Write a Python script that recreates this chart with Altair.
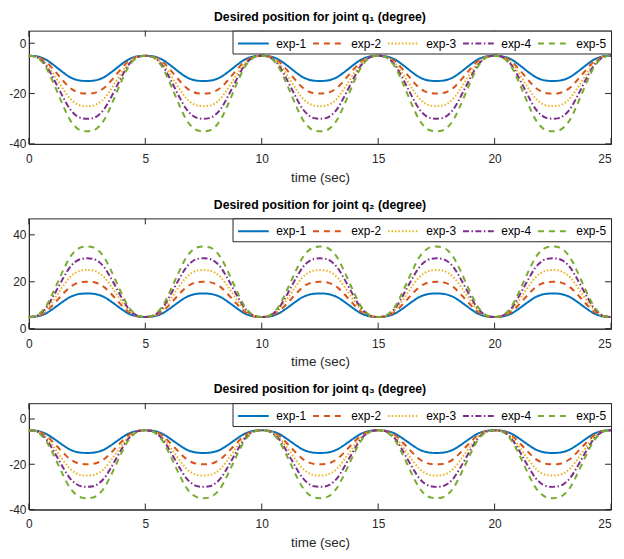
import altair as alt
import pandas as pd

# time axis (sec)
T_STEP = 0.25
T_END = 25
PROFILE = [0.00, 0.01, 0.06, 0.16, 0.32, 0.50, 0.68, 0.84, 0.94, 0.99,
           1.00, 0.99, 0.94, 0.84, 0.68, 0.50, 0.32, 0.16, 0.06, 0.01]
EXPS = ["exp-1", "exp-2", "exp-3", "exp-4", "exp-5"]
AMPLITUDES = [10, 15, 20, 25, 30]   # swing from the rest position (deg)
Q1_BASE, Q1_SIGN = -5, -1
Q2_BASE, Q2_SIGN = 5, 1
Q3_BASE, Q3_SIGN = -5, -1

COLORS = ["#0072BD", "#D95319", "#EDB120", "#7E2F8E", "#77AC30"]
DASHES = [[1, 0], [6, 5], [1.5, 2], [6, 2.5, 1.5, 2.5], [6, 5]]

X_TICKS = [0, 5, 10, 15, 20, 25]
Q1_TICKS = [-40, -20, 0]
Q2_TICKS = [0, 20, 40]
Q3_TICKS = [-40, -20, 0]

W = 586
FONT = "Liberation Sans"
AX = "#262626"
TICK = 6


def series(base, sign):
    rows = []
    n = int(T_END / T_STEP)
    for e, a in zip(EXPS, AMPLITUDES):
        for i in range(n + 1):
            p = PROFILE[i % len(PROFILE)]
            rows.append({"t": i * T_STEP, "value": base + sign * a * p, "exp": e})
    return pd.DataFrame(rows)


def panel(df, title, ydom, yticks, h):
    xs = alt.Scale(domain=[0, 25], nice=False, zero=False)
    ys = alt.Scale(domain=ydom, nice=False, zero=False)
    leg = alt.Legend(title=None, orient="top-right", direction="horizontal",
                     symbolType="M-2,0H2", symbolSize=240, symbolStrokeWidth=2,
                     symbolOffset=8,
                     labelFontSize=12, labelFont=FONT, labelColor="#000",
                     strokeColor=AX, fillColor="white", padding=4, offset=0,
                     columnPadding=1.5, labelOffset=14, rowPadding=0, cornerRadius=0)
    lines = alt.Chart(df).mark_line(strokeWidth=2, interpolate="monotone").encode(
        x=alt.X("t:Q", scale=xs,
                axis=alt.Axis(values=X_TICKS, title="time (sec)", ticks=False,
                              domain=True, domainColor=AX, domainWidth=1,
                              grid=False, labelPadding=9.5,
                              labelFontSize=12, labelFont=FONT, labelColor=AX,
                              labelAlign={"condition": {"test": "datum.value == 25", "value": "right"},
                                          "value": "center"},
                              titleFontSize=13.5, titleFont=FONT, titleFontWeight="normal",
                              titleColor=AX, titlePadding=6, labelFlush=False)),
        y=alt.Y("value:Q", scale=ys,
                axis=alt.Axis(values=yticks, title=None, ticks=False,
                              domain=True, domainColor=AX, domainWidth=1,
                              grid=False, labelPadding=3, labelFontSize=12,
                              labelFont=FONT, labelColor=AX,
                              labelExpr="datum.value < 0 ? '-' + abs(datum.value) : '' + datum.value")),
        color=alt.Color("exp:N", scale=alt.Scale(domain=EXPS, range=COLORS), legend=leg),
        strokeDash=alt.StrokeDash("exp:N", scale=alt.Scale(domain=EXPS, range=DASHES), legend=leg),
    )
    ydf = pd.DataFrame({"v": yticks})
    xdf = pd.DataFrame({"v": X_TICKS})
    tl = alt.Chart(ydf).mark_rule(color=AX, strokeWidth=1).encode(
        y=alt.Y("v:Q", scale=ys), x=alt.value(0), x2=alt.value(TICK))
    tr = alt.Chart(ydf).mark_rule(color=AX, strokeWidth=1).encode(
        y=alt.Y("v:Q", scale=ys), x=alt.value(W), x2=alt.value(W - TICK))
    tb = alt.Chart(xdf).mark_rule(color=AX, strokeWidth=1).encode(
        x=alt.X("v:Q", scale=xs), y=alt.value(h), y2=alt.value(h - TICK))
    tt = alt.Chart(xdf).mark_rule(color=AX, strokeWidth=1).encode(
        x=alt.X("v:Q", scale=xs), y=alt.value(0), y2=alt.value(TICK))
    return alt.layer(lines, tl, tr, tb, tt).properties(
        width=W, height=h,
        view=alt.ViewBackground(stroke=AX, strokeWidth=1),
        title=alt.TitleParams(title, fontSize=12.3, fontWeight="bold", font=FONT,
                              color="#000", offset=7, anchor="middle"))


p1 = panel(series(Q1_BASE, Q1_SIGN), "Desired position for joint q\u2081 (degree)", [-40, 5], Q1_TICKS, 114)
p2 = panel(series(Q2_BASE, Q2_SIGN), "Desired position for joint q\u2082 (degree)", [0, 47], Q2_TICKS, 111)
p3 = panel(series(Q3_BASE, Q3_SIGN), "Desired position for joint q\u2083 (degree)", [-40, 7], Q3_TICKS, 107)

chart = alt.vconcat(p1, p2, p3, spacing=13).resolve_scale(
    x="independent", y="independent", color="independent", strokeDash="independent"
).resolve_legend(color="independent", strokeDash="independent").properties(
    padding={"left": 0, "top": 0, "right": 0, "bottom": 0}
).configure_view(stroke=AX, strokeWidth=1).configure(background="white")

chart.save("out.html", embed_options={"renderer": "svg", "actions": False})
